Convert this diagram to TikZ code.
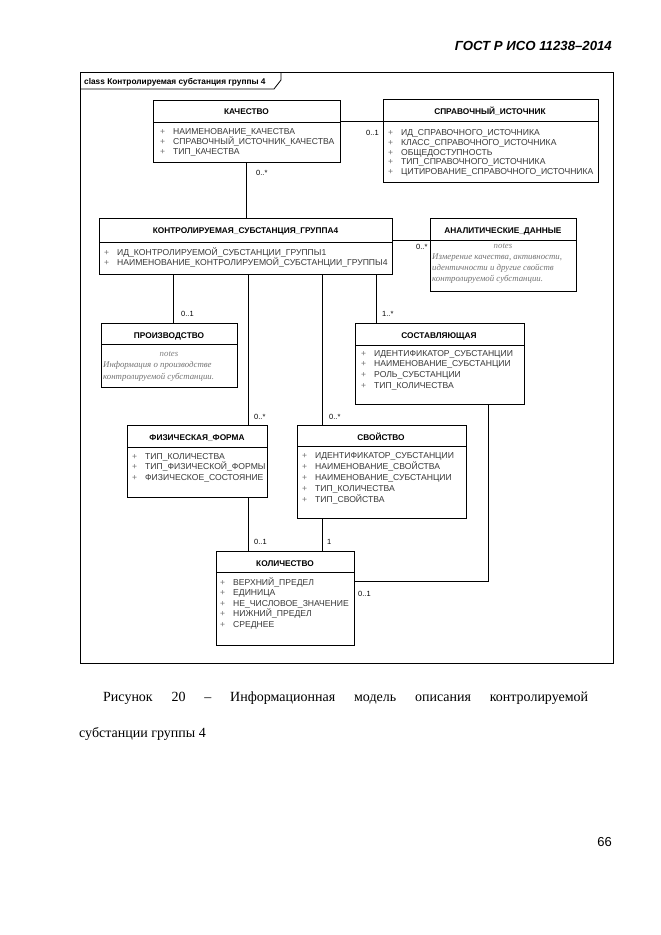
\documentclass[tikz,border=0pt]{standalone}
\usepackage{fontspec}
\setmainfont{Liberation Serif}
\setsansfont{Liberation Sans}
\usetikzlibrary{calc}
\tikzset{
  cls/.style={draw, line width=1.1pt, inner sep=0pt, anchor=north west},
  sepline/.style={line width=1pt},
  conn/.style={line width=0.9pt},
  ttl/.style={font=\sffamily\bfseries\fontsize{8.3}{9}\selectfont, anchor=base, inner sep=0pt},
  attr/.style={font=\sffamily\fontsize{8.6}{10}\selectfont, text=black!78, anchor=base west, inner sep=0pt},
  mult/.style={font=\sffamily\fontsize{7.5}{9}\selectfont, anchor=base west, inner sep=0pt},
  notehd/.style={font=\itshape\fontsize{8.8}{10}\selectfont, text=black!50, anchor=base, inner sep=0pt},
  notetxt/.style={font=\itshape\fontsize{8.8}{10}\selectfont, text=black!55, anchor=base west, inner sep=0pt},
}
\newcommand\attrlist[5]{%
  \foreach \atxt [count=\idx] in {#5} {%
    \node[attr] (#1-\idx) at (#2, {#3+(\idx-1)*#4}) {\makebox[13pt][l]{\textcolor{black!55}{+}}\atxt};
  }%
}
\newcommand\umlbox[6]{%
  \node[cls, minimum width=#4pt, minimum height=#5pt] (#1) at (#2,#3) {};
  \draw[sepline] ([yshift=-#6pt]#1.north west) -- ([yshift=-#6pt]#1.north east);
}
\begin{document}
\begin{tikzpicture}[x=1pt,y=-1pt]
\useasboundingbox (0,0) rectangle (661,935);
\fill[white] (0,0) rectangle (661,935);

% header and page number
\node[anchor=base east, inner sep=0pt, font=\sffamily\bfseries\itshape\fontsize{13.2}{15}\selectfont] (hdr) at (612,50) {ГОСТ Р ИСО 11238–2014};
\node[anchor=base east, inner sep=0pt, font=\sffamily\fontsize{13}{15}\selectfont] (pg) at (612,846) {66};

% frame
\node[draw, line width=0.8pt, minimum width=533pt, minimum height=591pt, anchor=north west, inner sep=0pt] (frame) at (80,72) {};
\draw[line width=0.8pt] ($(frame.north west)+(0,17)$) -- ($(frame.north west)+(194,17)$) -- ($(frame.north west)+(201,8)$) -- ($(frame.north west)+(201,0)$);
\node[anchor=base west, inner sep=0pt, font=\sffamily\bfseries\fontsize{8.3}{9}\selectfont] (tabtxt) at (84,84) {class Контролируемая субстанция группы 4};

% КАЧЕСТВО
\umlbox{kach}{153}{100}{187}{62}{22}
\node[ttl] (kach-t) at (246.5,114.8) {КАЧЕСТВО};
\attrlist{kacha}{160}{134}{10}{НАИМЕНОВАНИЕ\_КАЧЕСТВА,СПРАВОЧНЫЙ\_ИСТОЧНИК\_КАЧЕСТВА,ТИП\_КАЧЕСТВА}

% СПРАВОЧНЫЙ_ИСТОЧНИК
\umlbox{sprav}{383}{99}{215}{83}{22}
\node[ttl] (sprav-t) at (490,114) {СПРАВОЧНЫЙ\_ИСТОЧНИК};
\attrlist{sprava}{388}{135.5}{9.8}{ИД\_СПРАВОЧНОГО\_ИСТОЧНИКА,КЛАСС\_СПРАВОЧНОГО\_ИСТОЧНИКА,ОБЩЕДОСТУПНОСТЬ,ТИП\_СПРАВОЧНОГО\_ИСТОЧНИКА,ЦИТИРОВАНИЕ\_СПРАВОЧНОГО\_ИСТОЧНИКА}

% КОНТРОЛИРУЕМАЯ_СУБСТАНЦИЯ_ГРУППА4
\umlbox{kontr}{99}{218}{293}{56}{24}
\node[ttl] (kontr-t) at (245.5,233.8) {КОНТРОЛИРУЕМАЯ\_СУБСТАНЦИЯ\_ГРУППА4};
\attrlist{kontra}{104}{255}{10}{ИД\_КОНТРОЛИРУЕМОЙ\_СУБСТАНЦИИ\_ГРУППЫ1,НАИМЕНОВАНИЕ\_КОНТРОЛИРУЕМОЙ\_СУБСТАНЦИИ\_ГРУППЫ4}

% АНАЛИТИЧЕСКИЕ_ДАННЫЕ
\umlbox{anal}{430}{218}{146}{73}{22}
\node[ttl] (anal-t) at (503,233) {АНАЛИТИЧЕСКИЕ\_ДАННЫЕ};
\node[notehd] (anal-n) at (503,248) {notes};
\node[notetxt] (anal-1) at (432,259) {Измерение качества, активности,};
\node[notetxt] (anal-2) at (432,270) {идентичности и другие свойств};
\node[notetxt] (anal-3) at (432,281) {контролируемой субстанции.};

% ПРОИЗВОДСТВО
\umlbox{proizv}{101}{323}{136}{64}{21}
\node[ttl] (proizv-t) at (169,338) {ПРОИЗВОДСТВО};
\node[notehd] (proizv-n) at (169,356) {notes};
\node[notetxt] (proizv-1) at (103,367) {Информация о производстве};
\node[notetxt] (proizv-2) at (103,379) {контролируемой субстанции.};

% СОСТАВЛЯЮЩАЯ
\umlbox{sost}{355}{323}{169}{81}{22}
\node[ttl] (sost-t) at (439,338) {СОСТАВЛЯЮЩАЯ};
\attrlist{sosta}{361}{356}{10.8}{ИДЕНТИФИКАТОР\_СУБСТАНЦИИ,НАИМЕНОВАНИЕ\_СУБСТАНЦИИ,РОЛЬ\_СУБСТАНЦИИ,ТИП\_КОЛИЧЕСТВА}

% ФИЗИЧЕСКАЯ_ФОРМА
\umlbox{fiz}{127}{425}{140}{72}{22}
\node[ttl] (fiz-t) at (197,440) {ФИЗИЧЕСКАЯ\_ФОРМА};
\attrlist{fiza}{132}{459}{10.5}{ТИП\_КОЛИЧЕСТВА,ТИП\_ФИЗИЧЕСКОЙ\_ФОРМЫ,ФИЗИЧЕСКОЕ\_СОСТОЯНИЕ}

% СВОЙСТВО
\umlbox{svoi}{297}{425}{169}{93}{21}
\node[ttl] (svoi-t) at (381,440) {СВОЙСТВО};
\attrlist{svoia}{302}{458}{11}{ИДЕНТИФИКАТОР\_СУБСТАНЦИИ,НАИМЕНОВАНИЕ\_СВОЙСТВА,НАИМЕНОВАНИЕ\_СУБСТАНЦИИ,ТИП\_КОЛИЧЕСТВА,ТИП\_СВОЙСТВА}

% КОЛИЧЕСТВО
\umlbox{kol}{216}{551}{138}{94}{21}
\node[ttl] (kol-t) at (285,566) {КОЛИЧЕСТВО};
\attrlist{kola}{220}{585}{10.6}{ВЕРХНИЙ\_ПРЕДЕЛ,ЕДИНИЦА,НЕ\_ЧИСЛОВОЕ\_ЗНАЧЕНИЕ,НИЖНИЙ\_ПРЕДЕЛ,СРЕДНЕЕ}

% connectors
\coordinate (c1) at ([yshift=-21pt]kach.north east);
\draw[conn] (c1) -- (c1 -| sprav.west);
\draw[conn] (kach.south -| 246,0) -- (kontr.north -| 246,0);
\coordinate (c2) at ([yshift=-22pt]kontr.north east);
\draw[conn] (c2) -- (c2 -| anal.west);
\draw[conn] (kontr.south -| 173,0) -- (proizv.north -| 173,0);
\draw[conn] (kontr.south -| 248,0) -- (fiz.north -| 248,0);
\draw[conn] (kontr.south -| 322,0) -- (svoi.north -| 322,0);
\draw[conn] (kontr.south -| 376,0) -- (sost.north -| 376,0);
\draw[conn] (fiz.south -| 248,0) -- (kol.north -| 248,0);
\draw[conn] (svoi.south -| 322,0) -- (kol.north -| 322,0);
\draw[conn] (sost.south -| 488,0) |- (kol.east |- 0,581);

% multiplicities
\node[mult] (m1) at (366,135) {0..1};
\node[mult] (m2) at (256,175) {0..*};
\node[mult] (m3) at (416,249) {0..*};
\node[mult] (m4) at (181,316) {0..1};
\node[mult] (m5) at (382,316) {1..*};
\node[mult] (m6) at (254,419) {0..*};
\node[mult] (m7) at (329,419) {0..*};
\node[mult] (m8) at (254,544) {0..1};
\node[mult] (m9) at (327,544) {1};
\node[mult] (m10) at (358,596) {0..1};

% caption
\node[anchor=base west, inner sep=0pt, font=\fontsize{14}{16}\selectfont] (cap1) at (103,701) {\makebox[485pt][s]{Рисунок 20 – Информационная модель описания контролируемой}};
\node[anchor=base west, inner sep=0pt, font=\fontsize{14}{16}\selectfont] (cap2) at (79,737) {субстанции группы 4};
\end{tikzpicture}
\end{document}
